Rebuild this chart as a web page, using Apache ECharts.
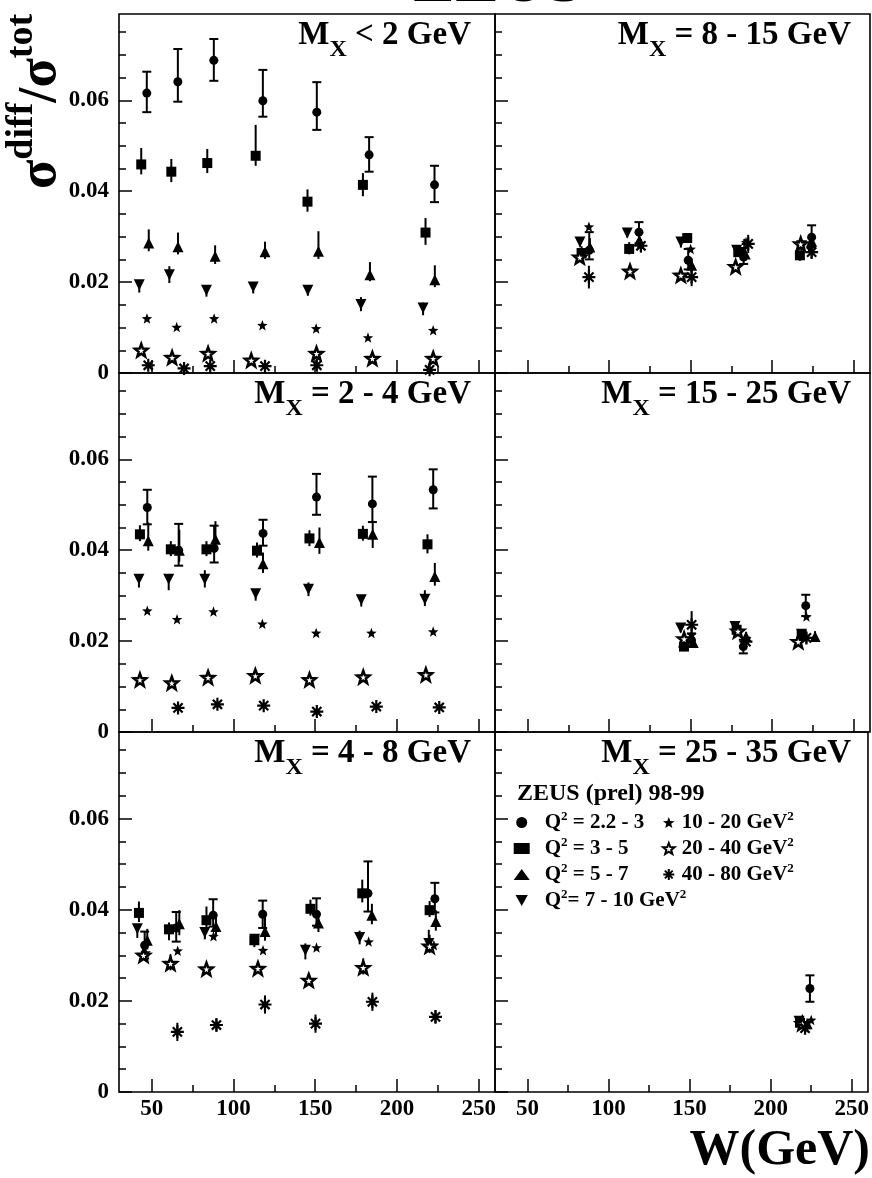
<!DOCTYPE html>
<html><head><meta charset="utf-8">
<script src="https://cdn.jsdelivr.net/npm/echarts@6/dist/echarts.min.js"></script>
<style>html,body{margin:0;padding:0;background:#fff}#c{width:872px;height:1178px}</style>
</head><body><div id="c"></div>
<script>
const FONT = '"Liberation Serif","Times New Roman",serif';

// ---- series (Q^2 bins) ----
const seriesNames = ['Q2 = 2.2 - 3', 'Q2 = 3 - 5', 'Q2 = 5 - 7', 'Q2 = 7 - 10', '10 - 20', '20 - 40', '40 - 80'];
// ---- panel titles (M_X bins) ----
const panelTitles = [' < 2 GeV', ' = 2 - 4 GeV', ' = 4 - 8 GeV', ' = 8 - 15 GeV', ' = 15 - 25 GeV', ' = 25 - 35 GeV'];

// ---- ticks ----
const xMajorTicks = [50, 100, 150, 200, 250];
const xMinorTicks = [75, 125, 175, 225];
const yMajorTicks = [0, 0.02, 0.04, 0.06];
const yMinorTicks = [0.005, 0.01, 0.015, 0.025, 0.03, 0.035, 0.045, 0.05, 0.055, 0.065, 0.07, 0.075];

// ---- data: [W (GeV), sigma_diff/sigma_tot, errDown, errUp] ----
// Panel A: M_X < 2 GeV
const A_q1 = [[47,0.0616,0.0042,0.0047],[66,0.0641,0.0044,0.0072],[88,0.0688,0.0045,0.0047],[118,0.0599,0.0035,0.0068],[151,0.0574,0.0039,0.0066],[183,0.0480,0.0037,0.0039],[223,0.0414,0.0038,0.0042]];
const A_q2 = [[43.6,0.0459,0.0022,0.0036],[62,0.0443,0.0023,0.0028],[84,0.0462,0.0022,0.0031],[113.6,0.0478,0.0022,0.0068],[145.3,0.0377,0.0022,0.0027],[179.2,0.0414,0.0025,0.0026],[217.5,0.0309,0.0027,0.0032]];
const A_q3 = [[48.2,0.0286,0.0018,0.0030],[66.1,0.0278,0.0017,0.0031],[88.8,0.0257,0.0017,0.0024],[119.3,0.0267,0.0016,0.0022],[152,0.0268,0.0017,0.0044],[183.5,0.0216,0.0014,0.0028],[223.2,0.0205,0.0016,0.0032]];
const A_q4 = [[42.4,0.0194,0.0017,0.0010],[60.8,0.0216,0.0018,0.0019],[83.5,0.0182,0.0014,0.0008],[112.1,0.0189,0.0014,0.0010],[145.5,0.0182,0.0012,0.0008],[178,0.0151,0.0015,0.0016],[216,0.0143,0.0016,0.0012]];
const A_q5 = [[47.1,0.0120],[65.3,0.0101],[88.2,0.0120],[117.7,0.0105],[150.6,0.0098],[182.3,0.0078],[222.2,0.0094]];
const A_q6 = [[43.6,0.0050],[62.5,0.0034],[84.5,0.0043],[110.9,0.0028],[150.8,0.0043],[185,0.0032],[222.2,0.0032]];
const A_q7 = [[47.9,0.0017],[69.8,0.0010],[85.8,0.0015],[119.3,0.0015],[151,0.0017],[220,0.0007]];
// Panel B: M_X = 2 - 4 GeV
const B_q1 = [[47.3,0.0494,0.0037,0.0039],[66.5,0.0400,0.0034,0.0058],[88.2,0.0404,0.0031,0.0050],[118.1,0.0437,0.0027,0.0030],[150.8,0.0517,0.0039,0.0051],[185,0.0502,0.0040,0.0060],[222.2,0.0533,0.0041,0.0045]];
const B_q2 = [[42.8,0.0435,0.0015,0.0020],[61.7,0.0402,0.0015,0.0018],[83.5,0.0402,0.0015,0.0018],[114.4,0.0399,0.0015,0.0018],[146.5,0.0426,0.0017,0.0018],[179.2,0.0436,0.0015,0.0018],[218.7,0.0413,0.0020,0.0022]];
const B_q3 = [[47.9,0.0421,0.0022,0.0040],[66.9,0.0400,0.0025,0.0045],[89,0.0424,0.0020,0.0040],[118.1,0.0370,0.0020,0.0025],[152.6,0.0417,0.0025,0.0033],[185.2,0.0435,0.0030,0.0030],[223.2,0.0342,0.0020,0.0030]];
const B_q4 = [[42.2,0.0336,0.0018,0.0010],[60.4,0.0336,0.0024,0.0010],[82.5,0.0336,0.0018,0.0020],[113.6,0.0304,0.0015,0.0010],[145.9,0.0314,0.0015,0.0015],[178.2,0.0291,0.0015,0.0010],[217.1,0.0292,0.0015,0.0020]];
const B_q5 = [[47.3,0.0267],[65.5,0.0248],[87.8,0.0265],[117.7,0.0238],[150.6,0.0218],[184.4,0.0218],[222.2,0.0221]];
const B_q6 = [[42.8,0.0115],[62.3,0.0108],[84.5,0.0120],[113.4,0.0124],[146.5,0.0115],[179.4,0.0121],[217.7,0.0126]];
const B_q7 = [[66.1,0.0053],[90.2,0.0061],[118.5,0.0058],[151,0.0045],[187.4,0.0056],[225.9,0.0054]];
// Panel C: M_X = 4 - 8 GeV
const C_q1 = [[45.7,0.0322,0.0029,0.0030],[65,0.0360,0.0030,0.0035],[87.6,0.0388,0.0025,0.0035],[117.9,0.0390,0.0030,0.0030],[150.8,0.0390,0.0025,0.0035],[182.3,0.0436,0.0040,0.0070],[223.2,0.0424,0.0030,0.0035]];
const C_q2 = [[42.2,0.0393,0.0020,0.0025],[60.6,0.0357,0.0020,0.0015],[83.5,0.0377,0.0020,0.0030],[112.8,0.0333,0.0015,0.0010],[147.1,0.0402,0.0015,0.0020],[178.8,0.0436,0.0020,0.0030],[220,0.0399,0.0015,0.0020]];
const C_q3 = [[47.3,0.0333,0.0020,0.0025],[66.9,0.0369,0.0025,0.0030],[89.3,0.0363,0.0020,0.0030],[119.3,0.0352,0.0020,0.0035],[152,0.0371,0.0020,0.0025],[184.7,0.0388,0.0020,0.0025],[223.8,0.0374,0.0020,0.0025]];
const C_q4 = [[41.2,0.0358,0.0020,0.0010],[60.6,0.0353,0.0020,0.0010],[82.5,0.0350,0.0015,0.0010],[113,0.0335,0.0010,0.0010],[144,0.0311,0.0020,0.0015],[177.2,0.0339,0.0015,0.0015],[219.5,0.0326,0.0015,0.0030]];
const C_q5 = [[46.3,0.0306],[65.9,0.0310],[87.8,0.0342],[118.1,0.0311],[150.8,0.0317],[182.7,0.0330],[222.6,0.0322]];
const C_q6 = [[45,0.0300],[61.5,0.0282,0.0015,0.0020],[83.5,0.0270],[115,0.0271,0.0010,0.0015],[146.1,0.0245,0.0010,0.0015],[179.4,0.0273,0.0015,0.0020],[220,0.0320,0.0015,0.0025]];
const C_q7 = [[65.7,0.0132,0.0020,0.0020],[89.6,0.0147,0.0015,0.0015],[119.3,0.0192,0.0020,0.0020],[150.2,0.0150,0.0020,0.0020],[185,0.0198,0.0020,0.0020],[223.6,0.0165,0.0015,0.0015]];
// Panel D: M_X = 8 - 15 GeV
const D_q1 = [[87.8,0.0270,0.0020,0.0040],[118.3,0.0310,0.0025,0.0022],[148.5,0.0248,0.0020,0.0025],[182.5,0.0255,0.0015,0.0020],[224.2,0.0299,0.0022,0.0026]];
const D_q2 = [[83.1,0.0264,0.0012,0.0015],[112.3,0.0273,0.0012,0.0015],[147.9,0.0297,0.0010,0.0010],[179.2,0.0266,0.0010,0.0015],[217,0.0259,0.0012,0.0010]];
const D_q3 = [[88.2,0.0277,0.0015,0.0020],[118.5,0.0292,0.0015,0.0015],[150.6,0.0237,0.0015,0.0015],[183.5,0.0262,0.0012,0.0012],[224.2,0.0290,0.0015,0.0015]];
const D_q4 = [[82.1,0.0288,0.0010,0.0010],[111.1,0.0308,0.0010,0.0010],[144,0.0288,0.0012,0.0010],[178.2,0.0270,0.0010,0.0010],[218,0.0280,0.0010,0.0010]];
const D_q5 = [[87.6,0.0322],[119,0.0284],[150,0.0273],[184,0.0288],[223.5,0.0275]];
const D_q6 = [[82,0.0255],[112.8,0.0224],[144,0.0215],[177.6,0.0234],[217.5,0.0284]];
const D_q7 = [[87.6,0.0211,0.0025,0.0025],[119.5,0.0280,0.0015,0.0015],[150.6,0.0211,0.0020,0.0020],[185.3,0.0284,0.0020,0.0020],[224.2,0.0266,0.0015,0.0015]];
// Panel E: M_X = 15 - 25 GeV
const E_q1 = [[150.5,0.0202,0.0015,0.0015],[182.3,0.0188,0.0015,0.0015],[220.6,0.0278,0.0023,0.0024]];
const E_q2 = [[145.9,0.0188,0.0010,0.0010],[178.2,0.0225,0.0010,0.0010],[218.1,0.0214,0.0010,0.0010]];
const E_q3 = [[151.6,0.0197,0.0012,0.0012],[184,0.0210,0.0010,0.0010],[226.3,0.0210,0.0012,0.0012]];
const E_q4 = [[143.9,0.0229,0.0010,0.0010],[177.2,0.0232,0.0010,0.0010],[218,0.0215,0.0010,0.0010]];
const E_q5 = [[150.6,0.0214],[183.5,0.0206],[221,0.0254]];
const E_q6 = [[146,0.0205],[179,0.0222],[216,0.0199]];
const E_q7 = [[150.6,0.0236,0.0020,0.0030],[183.9,0.0199,0.0012,0.0012],[221,0.0207,0.0012,0.0012]];
// Panel F: M_X = 25 - 35 GeV
const F_q1 = [[224.2,0.0227,0.0029,0.0029]];
const F_q2 = [[218.1,0.0152]];
const F_q3 = [[222.5,0.0150]];
const F_q4 = [[217.5,0.0155]];
const F_q5 = [[225,0.0158]];
const F_q6 = [[219.5,0.0150]];
const F_q7 = [[221.2,0.0140,0.0012,0.0012]];

const panels = [
  [A_q1, A_q2, A_q3, A_q4, A_q5, A_q6, A_q7],
  [B_q1, B_q2, B_q3, B_q4, B_q5, B_q6, B_q7],
  [C_q1, C_q2, C_q3, C_q4, C_q5, C_q6, C_q7],
  [D_q1, D_q2, D_q3, D_q4, D_q5, D_q6, D_q7],
  [E_q1, E_q2, E_q3, E_q4, E_q5, E_q6, E_q7],
  [F_q1, F_q2, F_q3, F_q4, F_q5, F_q6, F_q7]
];

// ---- layout ----
const gridRects = [
  {left: 119, top: 14, width: 376, height: 359},
  {left: 119, top: 373, width: 376, height: 359},
  {left: 119, top: 732, width: 376, height: 360},
  {left: 495, top: 14, width: 375, height: 359},
  {left: 495, top: 373, width: 375, height: 359},
  {left: 495, top: 732, width: 375, height: 360}
];

function starPath(rIn) {
  let d = '';
  for (let i = 0; i < 10; i++) {
    const r = i % 2 ? rIn : 1;
    const a = -Math.PI / 2 + i * Math.PI / 5;
    d += (i ? 'L' : 'M') + (r * Math.cos(a)).toFixed(3) + ',' + (r * Math.sin(a)).toFixed(3);
  }
  return 'path://' + d + 'Z';
}
const STAR = starPath(0.42);
const AST = 'path://M0,-1L0,1M-1,0L1,0M-0.707,-0.707L0.707,0.707M-0.707,0.707L0.707,-0.707';
const TRI_DOWN = 'path://M0,0L2,0L1,1.8Z';

const markers = [
  {symbol: 'circle', size: 9, rotate: 0, style: {color: '#000'}},
  {symbol: 'rect', size: 10, rotate: 0, style: {color: '#000'}},
  {symbol: 'triangle', size: 11, rotate: 0, style: {color: '#000'}},
  {symbol: 'triangle', size: 11, rotate: 180, style: {color: '#000'}},
  {symbol: STAR, size: 10.5, rotate: 0, style: {color: '#000'}},
  {symbol: STAR, size: 12.5, rotate: 0, style: {color: '#fff', borderColor: '#000', borderWidth: 2.5}},
  {symbol: AST, size: 13, rotate: 0, style: {color: 'transparent', borderColor: '#000', borderWidth: 2.2}}
];

const tickFont = {fontFamily: FONT, fontWeight: 'bold', fontSize: 23, color: '#000'};
const grids = [], xAxes = [], yAxes = [], series = [];
gridRects.forEach((g, gi) => {
  grids.push(Object.assign({show: true, borderColor: '#000', borderWidth: 1.6, backgroundColor: 'transparent'}, g));
  const bottomRow = (gi === 2 || gi === 5);
  const leftCol = gi < 3;
  xAxes.push({type: 'value', gridIndex: gi, min: 30, max: 260, position: 'bottom',
    axisLine: {show: false}, splitLine: {show: false},
    axisTick: {inside: true, length: 13, customValues: xMajorTicks, lineStyle: {color: '#000', width: 1.5}},
    axisLabel: Object.assign({show: bottomRow, margin: 6, customValues: xMajorTicks}, tickFont)});
  xAxes.push({type: 'value', gridIndex: gi, min: 30, max: 260, position: 'bottom',
    axisLine: {show: false}, splitLine: {show: false},
    axisTick: {inside: true, length: 7, customValues: xMinorTicks, lineStyle: {color: '#000', width: 1.5}},
    axisLabel: {show: false}});
  yAxes.push({type: 'value', gridIndex: gi, min: 0, max: 0.079, position: 'left',
    axisLine: {show: false}, splitLine: {show: false},
    axisTick: {inside: true, length: 13, customValues: yMajorTicks, lineStyle: {color: '#000', width: 1.5}},
    axisLabel: Object.assign({show: leftCol, margin: 10, customValues: yMajorTicks}, tickFont)});
  yAxes.push({type: 'value', gridIndex: gi, min: 0, max: 0.079, position: 'left',
    axisLine: {show: false}, splitLine: {show: false},
    axisTick: {inside: true, length: 7, customValues: yMinorTicks, lineStyle: {color: '#000', width: 1.5}},
    axisLabel: {show: false}});

  panels[gi].forEach((arr, si) => {
    const m = markers[si];
    const errData = arr.filter(p => p.length > 2);
    if (errData.length) {
      const caps = si === 0;
      series.push({
        type: 'custom', xAxisIndex: gi * 2, yAxisIndex: gi * 2, silent: true, z: 1,
        dimensions: ['w', 'v', 'dn', 'up'], encode: {x: 'w', y: 'v'},
        data: errData,
        renderItem: function (params, api) {
          const x = api.value(0), y = api.value(1), dn = api.value(2), up = api.value(3);
          const lo = api.coord([x, y - dn]), hi = api.coord([x, y + up]);
          const st = {stroke: '#000', lineWidth: 2};
          const ch = [{type: 'line', shape: {x1: lo[0], y1: lo[1], x2: hi[0], y2: hi[1]}, style: st}];
          if (caps) {
            ch.push({type: 'line', shape: {x1: lo[0] - 4.5, y1: lo[1], x2: lo[0] + 4.5, y2: lo[1]}, style: st});
            ch.push({type: 'line', shape: {x1: hi[0] - 4.5, y1: hi[1], x2: hi[0] + 4.5, y2: hi[1]}, style: st});
          }
          return {type: 'group', children: ch};
        }
      });
    }
    series.push({
      type: 'scatter', name: seriesNames[si], xAxisIndex: gi * 2, yAxisIndex: gi * 2, z: 2,
      symbol: m.symbol, symbolSize: m.size, symbolRotate: m.rotate,
      itemStyle: Object.assign({opacity: 1}, m.style),
      emphasis: {disabled: true},
      data: arr.map(p => [p[0], p[1]])
    });
  });
});

// legend text
const legendText = {
  'Q2 = 2.2 - 3': '{a|Q}{s|2}{a| = 2.2 - 3}',
  'Q2 = 3 - 5': '{a|Q}{s|2}{a| = 3 - 5}',
  'Q2 = 5 - 7': '{a|Q}{s|2}{a| = 5 - 7}',
  'Q2 = 7 - 10': '{a|Q}{s|2}{a|= 7 - 10 GeV}{s|2}',
  '10 - 20': '{a|10 - 20 GeV}{s|2}',
  '20 - 40': '{a|20 - 40 GeV}{s|2}',
  '40 - 80': '{a|40 - 80 GeV}{s|2}'
};
const legRich = {
  a: {fontFamily: FONT, fontWeight: 'bold', fontSize: 21, lineHeight: 21, color: '#000', verticalAlign: 'bottom'},
  s: {fontFamily: FONT, fontWeight: 'bold', fontSize: 13, lineHeight: 13, color: '#000', verticalAlign: 'bottom', padding: [0, 0, 10, 0]}
};
function legendCfg(left, names, pad) {
  return {left: left, top: 810, orient: 'vertical', padding: 0, itemGap: 3, itemWidth: 16, itemHeight: 11,
    selectedMode: false,
    data: names.map(n => n === 'Q2 = 7 - 10' ? {name: n, icon: TRI_DOWN} : n),
    formatter: n => legendText[n],
    textStyle: {fontFamily: FONT, fontWeight: 'bold', fontSize: 21, color: '#000', padding: [0, 0, 0, pad], rich: legRich}};
}

// titles
const titleRich = {
  m: {fontFamily: FONT, fontWeight: 'bold', fontSize: 33, lineHeight: 33, fill: '#000', verticalAlign: 'bottom', padding: [0, 0, 10, 0]},
  x: {fontFamily: FONT, fontWeight: 'bold', fontSize: 24, lineHeight: 24, fill: '#000', verticalAlign: 'bottom'}
};
const graphics = [];
gridRects.forEach((g, gi) => {
  graphics.push({type: 'text', x: gi < 3 ? 471 : 851, y: g.top + 14.5, silent: true,
    style: {text: '{m|M}{x|X}{m|' + panelTitles[gi] + '}', align: 'right', verticalAlign: 'top', rich: titleRich,
      font: 'bold 33px ' + FONT, fill: '#000'}});
});
// y axis title
graphics.push({type: 'text', x: 14, y: 189, rotation: Math.PI / 2, silent: true,
  style: {text: '{b|σ}{p|diff}{b|/σ}{p|tot}', align: 'left', verticalAlign: 'top', font: 'bold 54px ' + FONT, fill: '#000',
    rich: {
      b: {fontFamily: FONT, fontWeight: 'bold', fontSize: 54, lineHeight: 54, fill: '#000', verticalAlign: 'bottom'},
      p: {fontFamily: FONT, fontWeight: 'bold', fontSize: 38, lineHeight: 38, fill: '#000', verticalAlign: 'bottom', padding: [0, 0, 27, 0]}
    }}});
// x axis title
graphics.push({type: 'text', x: 870, y: 1151.5, silent: true,
  style: {text: 'W(GeV)', align: 'right', verticalAlign: 'middle', font: 'bold 50px ' + FONT, fill: '#000'}});
// top (cut) ZEUS
graphics.push({type: 'text', x: 497.5, y: -16, silent: true,
  style: {text: 'ZEUS', align: 'center', verticalAlign: 'middle', font: 'bold 66px ' + FONT, fill: '#000'}});
// legend header
graphics.push({type: 'text', x: 517, y: 793.7, silent: true,
  style: {text: 'ZEUS (prel) 98-99', align: 'left', verticalAlign: 'middle', font: 'bold 24px ' + FONT, fill: '#000'}});

const chart = echarts.init(document.getElementById('c'), null, {renderer: 'canvas'});
chart.setOption({
  animation: false,
  backgroundColor: '#fff',
  grid: grids,
  xAxis: xAxes,
  yAxis: yAxes,
  legend: [legendCfg(513.7, seriesNames.slice(0, 4), 10), legendCfg(662, seriesNames.slice(4), 0)],
  graphic: graphics,
  series: series
});
</script>
</body></html>
